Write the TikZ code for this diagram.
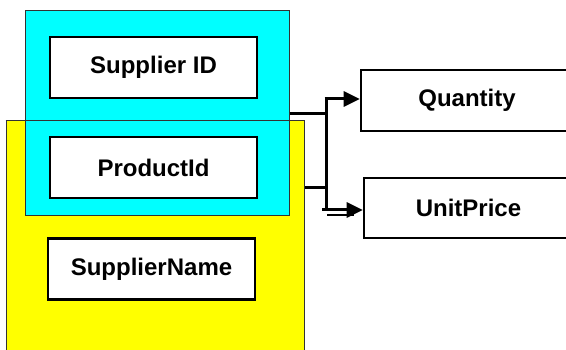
\documentclass[tikz,border=0pt]{standalone}
\usepackage{fontspec}
\setmainfont{Liberation Sans}
\usepackage{tikz}
\usetikzlibrary{arrows.meta,positioning,calc}
\definecolor{keycyan}{RGB}{0,255,255}
\definecolor{entyellow}{RGB}{255,255,0}

\begin{document}
\begin{tikzpicture}[
  x=1pt, y=-1pt,
  font=\fontsize{24}{28}\selectfont\bfseries,
  group/.style={rectangle, draw=black!80, line width=1pt, inner sep=0pt},
  field/.style={rectangle, draw, fill=white, line width=2.6pt,
                minimum width=207pt, minimum height=61pt, inner sep=0pt},
  link/.style={line width=3pt},
  arr/.style={-{Triangle[length=16pt, width=15pt]}, line width=3pt}
]
  \clip (0,0) rectangle (566,350);
  \fill[white] (0,0) rectangle (566,350);

  % entity and key
  \node[group, fill=entyellow, minimum width=298pt, minimum height=240pt] (entity) at (155,241) {};
  \node[group, fill=keycyan, minimum width=264pt, minimum height=205pt] (key) at (157,113.5) {};
  \draw[black!80, line width=1pt] (entity.north west) -- (entity.north east);

  \node[field] (sid) at (153.5,67.5) {Supplier ID};
  \node[field] (pid) at (153.5,167.5) {ProductId};
  \node[field] (sname) at (151.5,269) {SupplierName};

  % dependent attributes
  \node[field, minimum width=212pt] (qty) at (467,100.5) {Quantity};
  \node[field, minimum width=209pt, minimum height=60pt] (price) at (468.5,208) {UnitPrice};

  \coordinate (jtop) at (326,99);
  \coordinate (jbot) at (326,210);
  \coordinate (jname) at (326,188);

  \draw[link] (key.east) -- (key.east -| jtop);
  \draw[link] (jname) -- (jname -| entity.east);
  \draw[link] ($(jtop)+(0,-1.5)$) -- ($(jbot)+(0,1.5)$);
  \draw[arr] ($(jtop)+(-1.5,0)$) -- (jtop -| qty.west);
  \draw[arr] ($(jbot)+(-4,0)$) -- (jbot -| price.west);
  \draw[line width=1.4pt] ($(jbot)+(1,5)$) -- ($(jbot)+(28,5)$);
\end{tikzpicture}
\end{document}
